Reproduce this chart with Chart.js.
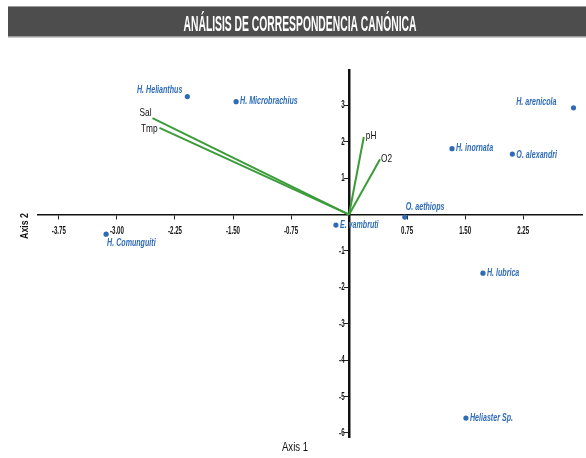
<!DOCTYPE html>
<html>
<head>
<meta charset="utf-8">
<script src="https://cdn.jsdelivr.net/npm/chart.js@4.4.0/dist/chart.umd.min.js"></script>
<style>
  html, body { margin: 0; padding: 0; background: #fff; }
  #wrap { width: 586px; height: 458px; }
</style>
</head>
<body>
<div id="wrap"><canvas id="ccaChart"></canvas></div>
<script>
// species scores
const speciesNames = ['H. Helianthus', 'H. Microbrachius', 'H. arenicola', 'H. inornata', 'O. alexandri',
                      'O. aethiops', 'E. vambruti', 'H. Comunguiti', 'H. lubrica', 'Heliaster Sp.'];
const speciesAxis1 = [-2.09, -1.46, 2.90, 1.33, 2.11, 0.72, -0.17, -3.14, 1.73, 1.51];
const speciesAxis2 = [3.24, 3.10, 2.93, 1.81, 1.66, -0.07, -0.29, -0.54, -1.61, -5.59];

// environmental vectors
const vectorNames = ['Sal', 'Tmp', 'pH', 'O2'];
const vectorAxis1 = [-2.54, -2.45, 0.19, 0.40];
const vectorAxis2 = [2.65, 2.38, 2.13, 1.52];

// tick labels
const xTickValues = [-3.75, -3.00, -2.25, -1.50, -0.75, 0.75, 1.50, 2.25];
const yTickValues = [-6, -5, -4, -3, -2, -1, 1, 2, 3];

// label placement (align, dx, dy) - style only
const speciesLabelPlace = [
    ['right', -5, -6], ['left', 4, 0], ['right', -17, -6], ['left', 4, 0], ['left', 4, 1],
    ['left', 1, -10], ['left', 4, 0], ['left', 1, 9], ['left', 4, 0], ['left', 4, 0]
];
const vectorLabelPlace = [['right', -1, -5], ['right', -2, 1], ['left', 2, -1], ['left', 1, 0]];

const BLUE = '#2f6cb5';
const GREEN = '#3c9c3a';
const SANS = '"Liberation Sans", Arial, sans-serif';

function squeezeText(ctx, text, x, y, font, color, align, sx, rot) {
    ctx.save();
    ctx.font = font;
    ctx.fillStyle = color;
    ctx.textAlign = align;
    ctx.textBaseline = 'middle';
    ctx.translate(x, y);
    if (rot) ctx.rotate(rot);
    ctx.scale(sx, 1);
    ctx.fillText(text, 0, 0);
    ctx.restore();
}

const decorations = {
    id: 'decorations',
    beforeDraw(chart) {
        const ctx = chart.ctx;
        // title banner
        ctx.save();
        ctx.fillStyle = '#4d4d4d';
        ctx.fillRect(8, 6, 578, 31);
        ctx.fillStyle = '#9a9a9a';
        ctx.fillRect(8, 6, 578, 1);
        ctx.fillRect(8, 36, 578, 1.5);
        ctx.restore();
        ctx.save();
        ctx.font = 'bold 22px ' + SANS;
        const w = ctx.measureText('ANÁLISIS DE CORRESPONDENCIA CANÓNICA').width;
        ctx.restore();
        squeezeText(ctx, 'ANÁLISIS DE CORRESPONDENCIA CANÓNICA', 300, 24.5,
            'bold 22px ' + SANS, '#ffffff', 'center', 233 / w);

        // axis titles
        squeezeText(ctx, 'Axis 1', 295, 448, '12px ' + SANS, '#111', 'center', 0.8);
        squeezeText(ctx, 'Axis 2', 25, 226, 'bold 11px ' + SANS, '#111', 'center', 0.8, -Math.PI / 2);
    },
    afterDraw(chart) {
        const ctx = chart.ctx;
        const xs = chart.scales.x, ys = chart.scales.y;
        const x0 = xs.getPixelForValue(0), y0 = ys.getPixelForValue(0);

        // tick labels
        xTickValues.forEach(v => {
            squeezeText(ctx, v.toFixed(2), xs.getPixelForValue(v), y0 + 16,
                'bold 11px ' + SANS, '#111', 'center', 0.56);
        });
        yTickValues.forEach(v => {
            squeezeText(ctx, String(v), x0 - 4.5, ys.getPixelForValue(v),
                'bold 11px ' + SANS, '#111', 'right', 0.56);
        });

        // species labels
        speciesNames.forEach((name, i) => {
            const p = speciesLabelPlace[i];
            squeezeText(ctx, name, xs.getPixelForValue(speciesAxis1[i]) + p[1],
                ys.getPixelForValue(speciesAxis2[i]) + p[2],
                'italic bold 10px ' + SANS, BLUE, p[0], 0.71);
        });

        // vector labels
        vectorNames.forEach((name, i) => {
            const p = vectorLabelPlace[i];
            squeezeText(ctx, name, xs.getPixelForValue(vectorAxis1[i]) + p[1],
                ys.getPixelForValue(vectorAxis2[i]) + p[2],
                '11.5px ' + SANS, '#111', p[0], 0.72);
        });
    }
};

const vectorDatasets = vectorNames.map((name, i) => ({
    type: 'line',
    label: name,
    data: [{ x: 0, y: 0 }, { x: vectorAxis1[i], y: vectorAxis2[i] }],
    borderColor: GREEN,
    borderWidth: 2,
    pointRadius: 0,
    fill: false,
    tension: 0
}));

const speciesDataset = {
    type: 'scatter',
    label: 'Especies',
    data: speciesNames.map((n, i) => ({ x: speciesAxis1[i], y: speciesAxis2[i] })),
    backgroundColor: BLUE,
    borderColor: BLUE,
    pointRadius: 2.6,
    pointBorderWidth: 0
};

const ctx = document.getElementById('ccaChart').getContext('2d');
const chart = new Chart(ctx, {
    type: 'scatter',
    data: { datasets: [...vectorDatasets, speciesDataset] },
    options: {
        responsive: true,
        maintainAspectRatio: false,
        animation: false,
        layout: { padding: { left: 38, right: 0, top: 70, bottom: 21 } },
        plugins: {
            legend: { display: false },
            tooltip: { enabled: false },
            title: { display: false }
        },
        scales: {
            x: {
                type: 'linear',
                position: { y: 0 },
                min: -4.02,
                max: 3.01,
                afterBuildTicks: axis => { axis.ticks = xTickValues.map(v => ({ value: v })); },
                ticks: { display: false },
                grid: { drawOnChartArea: false, drawTicks: true, tickLength: 4, color: '#222', lineWidth: 1 },
                border: { display: true, color: '#111', width: 1.5 }
            },
            y: {
                type: 'linear',
                position: { x: 0 },
                min: -6.11,
                max: 3.97,
                afterBuildTicks: axis => { axis.ticks = yTickValues.map(v => ({ value: v })); },
                ticks: { display: false },
                grid: { drawOnChartArea: false, drawTicks: true, tickLength: 4, color: '#222', lineWidth: 1 },
                border: { display: true, color: '#111', width: 2.5 }
            }
        }
    },
    plugins: [decorations]
});
</script>
</body>
</html>
